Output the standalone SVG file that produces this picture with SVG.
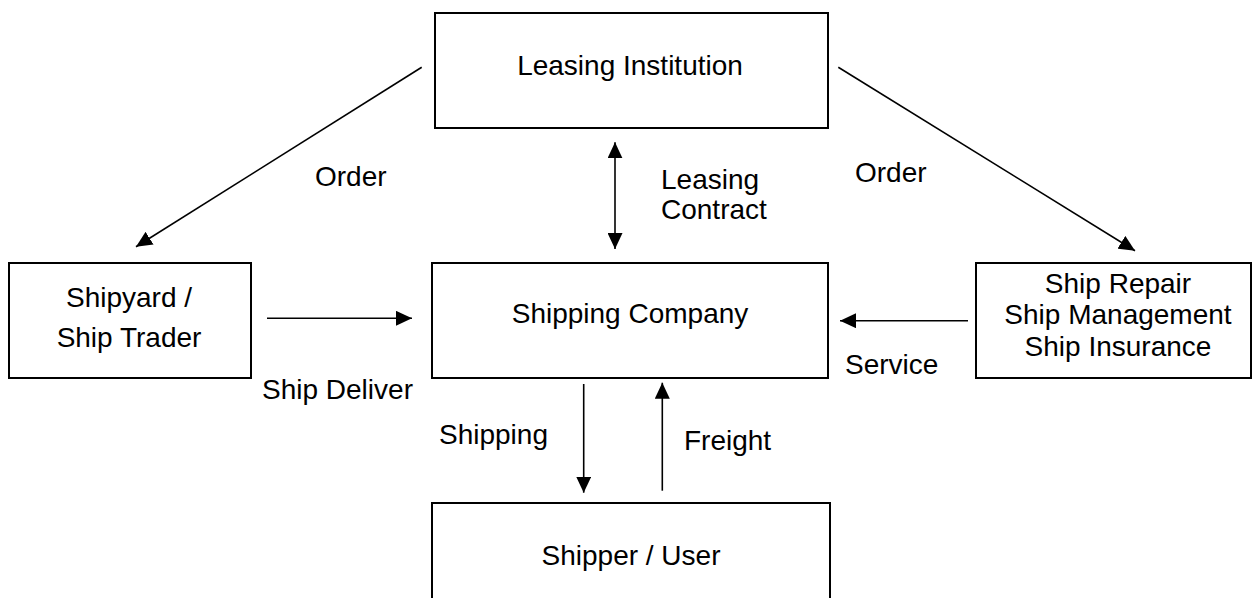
<svg xmlns="http://www.w3.org/2000/svg" width="1252" height="598" viewBox="0 0 1252 598">
  <style>
    .box { fill: #ffffff; stroke: #000000; stroke-width: 2; }
    .lbl { font-family: "Liberation Sans", Arial, sans-serif; font-size: 28px; fill: #000000; }
    .mid { text-anchor: middle; }
    .conn { stroke: #000000; stroke-width: 1.6; fill: none; }
  </style>
  <defs>
    <marker id="head" markerUnits="userSpaceOnUse" markerWidth="16" markerHeight="15" refX="16" refY="7.5" orient="auto-start-reverse">
      <path d="M0,0 L16,7.5 L0,15 Z" fill="#000000"/>
    </marker>
  </defs>
  <rect width="1252" height="598" fill="#ffffff"/>

  <g id="leasing-institution">
    <rect class="box" x="435" y="13" width="393" height="115"/>
    <text class="lbl mid" x="630" y="75">Leasing Institution</text>
  </g>

  <g id="shipyard">
    <rect class="box" x="9" y="263" width="242" height="115"/>
    <text class="lbl mid" x="129" y="307">Shipyard /</text>
    <text class="lbl mid" x="129" y="347">Ship Trader</text>
  </g>

  <g id="shipping-company">
    <rect class="box" x="432" y="263" width="396" height="115"/>
    <text class="lbl mid" x="630" y="323">Shipping Company</text>
  </g>

  <g id="services">
    <rect class="box" x="976" y="263" width="275" height="115"/>
    <text class="lbl mid" x="1118" y="293">Ship Repair</text>
    <text class="lbl mid" x="1118" y="324">Ship Management</text>
    <text class="lbl mid" x="1118" y="356">Ship Insurance</text>
  </g>

  <g id="shipper-user">
    <rect class="box" x="432" y="503" width="398" height="110"/>
    <text class="lbl mid" x="631" y="565">Shipper / User</text>
  </g>

  <g id="connectors">
    <line class="conn" x1="421.7" y1="67.3" x2="136" y2="246.7" marker-end="url(#head)"/>
    <line class="conn" x1="838.3" y1="67.3" x2="1135" y2="250.7" marker-end="url(#head)"/>
    <line class="conn" x1="615" y1="142.3" x2="615" y2="249" marker-start="url(#head)" marker-end="url(#head)"/>
    <line class="conn" x1="267" y1="318.3" x2="412" y2="318.3" marker-end="url(#head)"/>
    <line class="conn" x1="968" y1="320.7" x2="840" y2="320.7" marker-end="url(#head)"/>
    <line class="conn" x1="583.7" y1="384" x2="583.7" y2="492.7" marker-end="url(#head)"/>
    <line class="conn" x1="662.3" y1="490.7" x2="662.3" y2="382.7" marker-end="url(#head)"/>
  </g>

  <g id="connector-labels">
    <text class="lbl" x="315" y="186">Order</text>
    <text class="lbl" x="855" y="182">Order</text>
    <text class="lbl" x="661" y="189">Leasing</text>
    <text class="lbl" x="661" y="219">Contract</text>
    <text class="lbl" x="262" y="399">Ship Deliver</text>
    <text class="lbl" x="845" y="374">Service</text>
    <text class="lbl" x="439" y="444">Shipping</text>
    <text class="lbl" x="684" y="450">Freight</text>
  </g>
</svg>
